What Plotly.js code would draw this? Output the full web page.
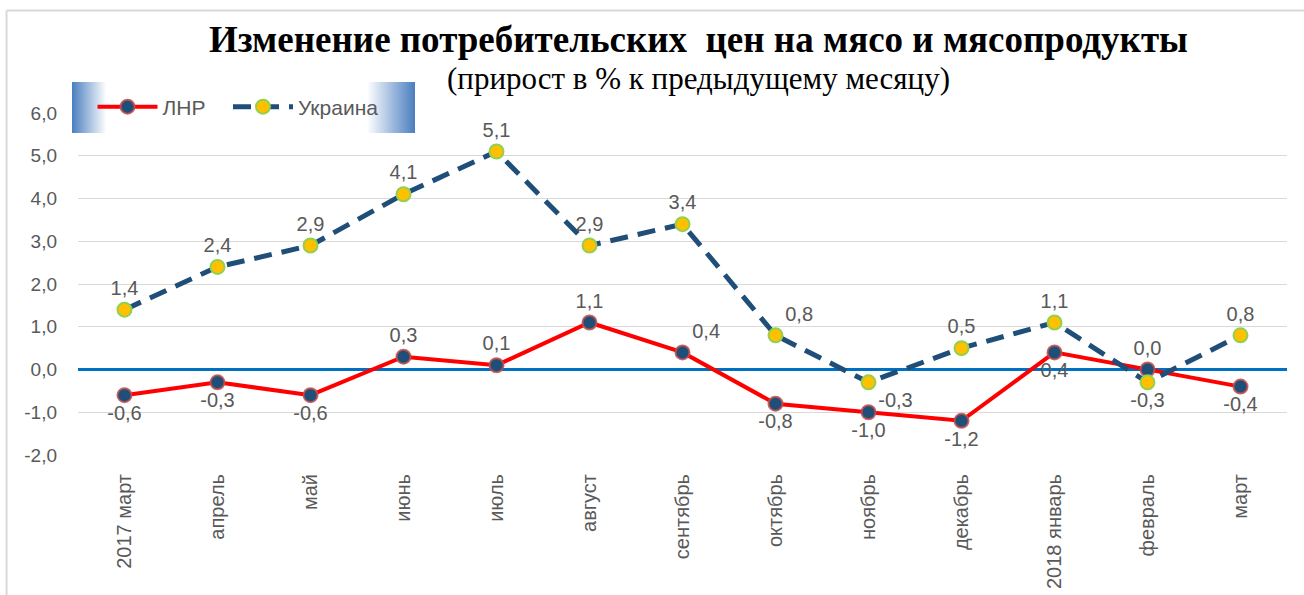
<!DOCTYPE html>
<html>
<head>
<meta charset="utf-8">
<script src="https://cdn.plot.ly/plotly-3.0.1.min.js"></script>
<style>html,body{margin:0;padding:0;background:#fff;}#chart{width:1304px;height:595px;}</style>
</head>
<body>
<div id="chart"></div>
<script>
const categories = ["2017 март","апрель","май","июнь","июль","август","сентябрь","октябрь","ноябрь","декабрь","2018 январь","февраль","март"];
const lnrValues = [-0.6,-0.3,-0.6,0.3,0.1,1.1,0.4,-0.8,-1.0,-1.2,0.4,0.0,-0.4];
const ukraineValues = [1.4,2.4,2.9,4.1,5.1,2.9,3.4,0.8,-0.3,0.5,1.1,-0.3,0.8];
const lnrLabelPos = ["bottom center","bottom center","bottom center","top center","top center","top center","top right","bottom center","bottom center","bottom center","bottom center","top center","bottom center"];
const ukrLabelPos = ["top center","top center","top center","top center","top center","top center","top center","top right","bottom right","top center","top center","bottom center","top center"];
const yTickVals = [-2,-1,0,1,2,3,4,5,6];

const fmt = v => v.toFixed(1).replace('.', ',');
const xIdx = categories.map((c,i)=>i);

const labelFont = {family:"Liberation Sans, Arial, sans-serif", size:20, color:"#595959"};

const traces = [
  {
    name:"ЛНР\u00a0\u00a0\u00a0", x:xIdx, y:lnrValues, type:"scatter", mode:"lines+markers+text",
    line:{color:"#FF0000", width:4},
    marker:{size:14, color:"#1F4E79", line:{color:"rgba(192,80,77,0.85)", width:2}},
    text:lnrValues.map(fmt), textposition:lnrLabelPos, textfont:labelFont,
    cliponaxis:false
  },
  {
    name:"Украина", x:xIdx, y:ukraineValues, type:"scatter", mode:"lines+markers+text",
    line:{color:"#1F4E79", width:5, dash:"18px,10px"},
    marker:{size:14, color:"#FFC000", line:{color:"#92D050", width:2}},
    text:ukraineValues.map(fmt), textposition:ukrLabelPos, textfont:labelFont,
    cliponaxis:false
  }
];

const gradSvg = '<svg xmlns="http://www.w3.org/2000/svg" width="343" height="51" preserveAspectRatio="none">' +
  '<defs><linearGradient id="g" x1="0" y1="0" x2="1" y2="0">' +
  '<stop offset="0" stop-color="#4a7ebf"/><stop offset="0.1" stop-color="#ffffff"/>' +
  '<stop offset="0.86" stop-color="#ffffff"/><stop offset="1" stop-color="#4a7ebf"/>' +
  '</linearGradient></defs><rect width="343" height="51" fill="url(#g)"/></svg>';
const gradUri = 'data:image/svg+xml;base64,' + btoa(gradSvg);

const layout = {
  width:1304, height:595,
  margin:{l:78, r:17, t:113, b:140},
  paper_bgcolor:"#ffffff", plot_bgcolor:"rgba(0,0,0,0)",
  showlegend:true,
  legend:{orientation:"h", x:0.012, xanchor:"left", y:1.0175, yanchor:"middle",
          bgcolor:"rgba(0,0,0,0)", font:{family:"Liberation Sans, Arial, sans-serif", size:21, color:"#595959"},
          itemwidth:60, traceorder:"normal"},
  xaxis:{
    type:"linear", range:[-0.5,12.5], tickvals:xIdx, ticktext:categories,
    tickangle:-90, showgrid:false, zeroline:false, showline:false, ticks:"",
    tickfont:{family:"Liberation Sans, Arial, sans-serif", size:20, color:"#595959"},
    ticklabelstandoff:14
  },
  yaxis:{
    range:[-2,6], tickvals:yTickVals, ticktext:yTickVals.map(fmt),
    showgrid:true, gridcolor:"#d9d9d9", gridwidth:1,
    zeroline:true, zerolinecolor:"#0070C0", zerolinewidth:3,
    showline:false, ticks:"",
    tickfont:{family:"Liberation Sans, Arial, sans-serif", size:19, color:"#595959"},
    ticklabelstandoff:20
  },
  images:[{source:gradUri, xref:"paper", yref:"paper", x:-0.00496, y:1.0906,
           sizex:0.2837, sizey:0.149, sizing:"stretch", xanchor:"left", yanchor:"top", layer:"above"}],
  shapes:[
    {type:"line", xref:"paper", yref:"paper", x0:-0.0591, x1:1.02, y0:1.2997, y1:1.2997, line:{color:"#d9d9d9", width:2}},
    {type:"line", xref:"paper", yref:"paper", x0:-0.0591, x1:-0.0591, y0:1.2997, y1:-0.42, line:{color:"#d9d9d9", width:2}}
  ],
  annotations:[
    {text:"<b>Изменение потребительских  цен на мясо и мясопродукты</b>", xref:"paper", yref:"paper",
     x:0.5136, y:1.2135, xanchor:"center", yanchor:"middle", showarrow:false,
     font:{family:"Liberation Serif, Times New Roman, serif", size:37, color:"#000000"}},
    {text:"(прирост в % к предыдущему месяцу)", xref:"paper", yref:"paper",
     x:0.5136, y:1.1023, xanchor:"center", yanchor:"middle", showarrow:false,
     font:{family:"Liberation Serif, Times New Roman, serif", size:31, color:"#000000"}}
  ]
};

Plotly.newPlot("chart", traces, layout, {displayModeBar:false, staticPlot:true});
</script>
</body>
</html>
